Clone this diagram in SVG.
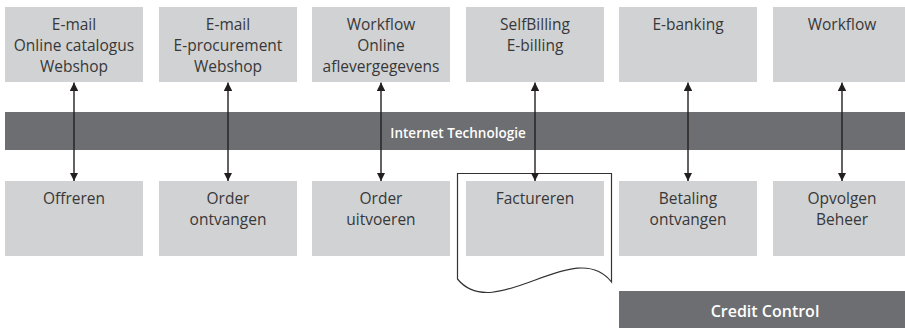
<svg xmlns="http://www.w3.org/2000/svg" width="905" height="331" viewBox="0 0 905 331">
  <style>
    .box { fill: #d1d2d4; }
    .band { fill: #6d6e71; }
    .lbl { font-family: "Open Sans", "Noto Sans", "DejaVu Sans", sans-serif; font-size: 15.5px; fill: #383838; text-anchor: middle; }
    .wlbl { font-family: "Open Sans", "Noto Sans", "DejaVu Sans", sans-serif; font-weight: 600; fill: #ffffff; text-anchor: middle; }
    .link { stroke: #231f20; stroke-width: 1.4; fill: none; marker-start: url(#head); marker-end: url(#head); }
    .doc { fill: #ffffff; stroke: #333333; stroke-width: 1.2; }
  </style>
  <defs>
    <marker id="head" viewBox="0 0 10 10" refX="10" refY="5" markerWidth="8.5" markerHeight="8.5" markerUnits="userSpaceOnUse" orient="auto-start-reverse">
      <path d="M0,0 L10,5 L0,10 Z" fill="#231f20"/>
    </marker>
  </defs>

  <!-- shared internet layer -->
  <g id="internet">
    <rect class="band" x="5" y="112" width="906" height="38"/>
    <text class="wlbl" x="458" y="137.5" font-size="13.5">Internet Technologie</text>
  </g>

  <!-- invoice document outline behind Factureren -->
  <g id="document">
    <path class="doc" d="M457.5,173.5 L611.5,173.5 L611.5,282 C575,235 495,325 457.5,279 Z"/>
  </g>

  <!-- top row: tools -->
  <g id="tool-1">
    <rect class="box" x="5" y="7" width="138" height="75"/>
    <text class="lbl" x="74" y="30">E-mail</text>
    <text class="lbl" x="74" y="51">Online catalogus</text>
    <text class="lbl" x="74" y="72">Webshop</text>
  </g>
  <g id="tool-2">
    <rect class="box" x="159" y="7" width="138" height="75"/>
    <text class="lbl" x="228" y="30">E-mail</text>
    <text class="lbl" x="228" y="51">E-procurement</text>
    <text class="lbl" x="228" y="72">Webshop</text>
  </g>
  <g id="tool-3">
    <rect class="box" x="312" y="7" width="138" height="75"/>
    <text class="lbl" x="381" y="30">Workflow</text>
    <text class="lbl" x="381" y="51">Online</text>
    <text class="lbl" x="381" y="72">aflevergegevens</text>
  </g>
  <g id="tool-4">
    <rect class="box" x="466" y="7" width="138" height="75"/>
    <text class="lbl" x="535" y="30">SelfBilling</text>
    <text class="lbl" x="535" y="51">E-billing</text>
  </g>
  <g id="tool-5">
    <rect class="box" x="619" y="7" width="138" height="75"/>
    <text class="lbl" x="688" y="30">E-banking</text>
  </g>
  <g id="tool-6">
    <rect class="box" x="773" y="7" width="138" height="75"/>
    <text class="lbl" x="842" y="30">Workflow</text>
  </g>

  <!-- bottom row: process steps -->
  <g id="step-1">
    <rect class="box" x="5" y="181" width="138" height="75"/>
    <text class="lbl" x="74" y="204">Offreren</text>
  </g>
  <g id="step-2">
    <rect class="box" x="159" y="181" width="138" height="75"/>
    <text class="lbl" x="228" y="204">Order</text>
    <text class="lbl" x="228" y="225">ontvangen</text>
  </g>
  <g id="step-3">
    <rect class="box" x="312" y="181" width="138" height="75"/>
    <text class="lbl" x="381" y="204">Order</text>
    <text class="lbl" x="381" y="225">uitvoeren</text>
  </g>
  <g id="step-4">
    <rect class="box" x="466" y="181" width="138" height="75"/>
    <text class="lbl" x="535" y="204">Factureren</text>
  </g>
  <g id="step-5">
    <rect class="box" x="619" y="181" width="138" height="75"/>
    <text class="lbl" x="688" y="204">Betaling</text>
    <text class="lbl" x="688" y="225">ontvangen</text>
  </g>
  <g id="step-6">
    <rect class="box" x="773" y="181" width="138" height="75"/>
    <text class="lbl" x="842" y="204">Opvolgen</text>
    <text class="lbl" x="842" y="225">Beheer</text>
  </g>

  <!-- credit control bar -->
  <g id="credit-control">
    <rect class="band" x="619" y="291" width="292" height="37"/>
    <text class="wlbl" x="765" y="317" font-size="16">Credit Control</text>
  </g>

  <!-- two-way links between tools and steps -->
  <g id="connectors">
    <line class="link" x1="74" y1="82.5" x2="74" y2="181"/>
    <line class="link" x1="228" y1="82.5" x2="228" y2="181"/>
    <line class="link" x1="381" y1="82.5" x2="381" y2="181"/>
    <line class="link" x1="535" y1="82.5" x2="535" y2="181"/>
    <line class="link" x1="688" y1="82.5" x2="688" y2="181"/>
    <line class="link" x1="842" y1="82.5" x2="842" y2="181"/>
  </g>
</svg>
